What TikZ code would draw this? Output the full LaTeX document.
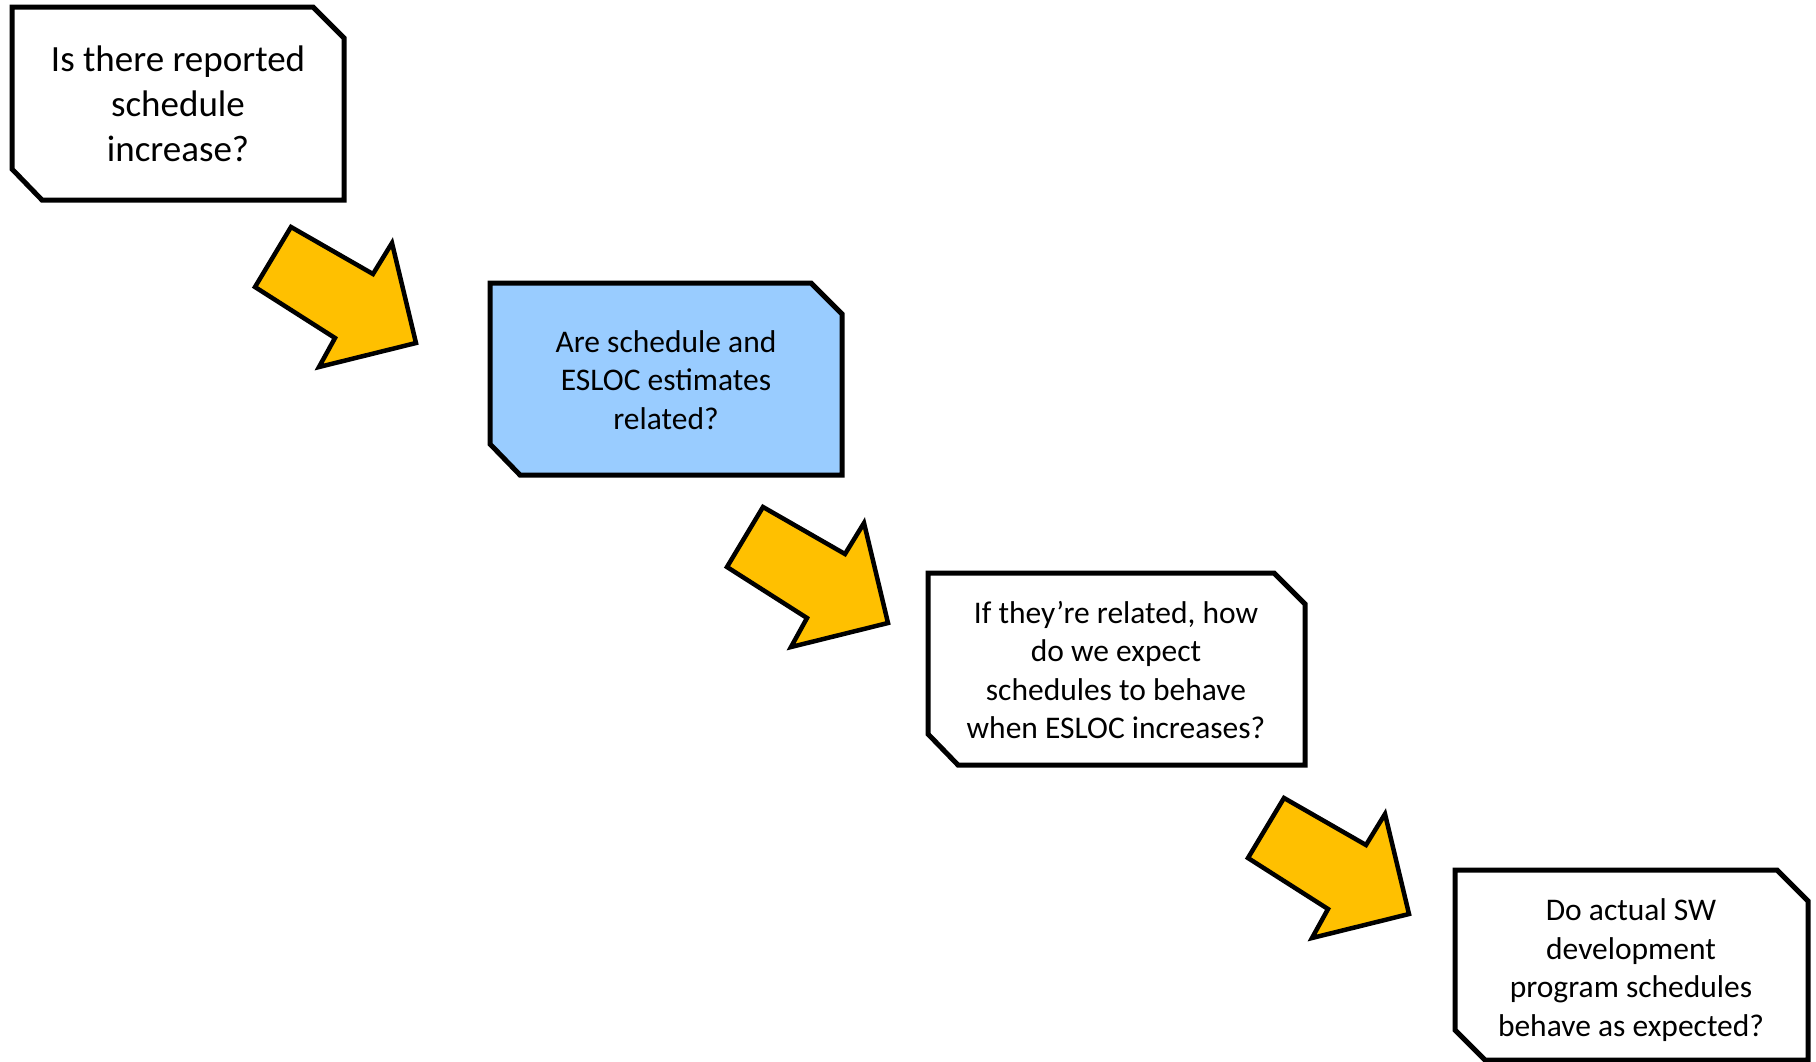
\documentclass[tikz,border=0pt]{standalone}
\usepackage{fontspec}
\setmainfont{Carlito}
\definecolor{boxblue}{HTML}{99CCFF}
\definecolor{arrowgold}{HTML}{FFC000}
\begin{document}
\begin{tikzpicture}[x=1pt,y=-1pt,
  qbox/.style={draw=black,line width=5pt,line join=miter},
  qtext/.style={align=center,inner sep=0pt,text=black},
  bigtext/.style={qtext,font=\fontsize{37}{45}\selectfont},
  smalltext/.style={qtext,font=\fontsize{31.5}{38.5}\selectfont},
  blockarrow/.style={draw=black,fill=arrowgold,line width=4.5pt,line join=miter}]
\useasboundingbox (0,0) rectangle (1816,1061);
\fill[white] (0,0) rectangle (1816,1061);

% Box 1
\draw[qbox,fill=white] (12,7) -- (313,7) -- (344,38) -- (344,200) -- (42,200) -- (12,169) -- cycle;
\node[bigtext] (q1) at (178,104) {Is there reported\\schedule\\increase?};

% Box 2
\draw[qbox,fill=boxblue] (490,283) -- (811,283) -- (842,314) -- (842,475) -- (520,475) -- (490,444) -- cycle;
\node[smalltext] (q2) at (666,380) {Are schedule and\\ESLOC estimates\\related?};

% Box 3
\draw[qbox,fill=white] (928,573) -- (1274,573) -- (1305,604) -- (1305,765) -- (958,765) -- (928,734) -- cycle;
\node[smalltext] (q3) at (1116,670) {If they’re related, how\\do we expect\\schedules to behave\\when ESLOC increases?};

% Box 4
\draw[qbox,fill=white] (1455,870) -- (1777,870) -- (1808,901) -- (1808,1060) -- (1485,1060) -- (1455,1030) -- cycle;
\node[smalltext] (q4) at (1631,970) {Do actual SW\\development\\program schedules\\behave as expected?};

% Block arrows
\foreach \dx/\dy in {0/0, 472/280, 993/571}{
  \draw[blockarrow,shift={(\dx,\dy)}]
    (291,227) -- (373,274) -- (392,243) -- (416,343) -- (319,367) -- (335,338) -- (255,287) -- cycle;
}
\end{tikzpicture}
\end{document}
